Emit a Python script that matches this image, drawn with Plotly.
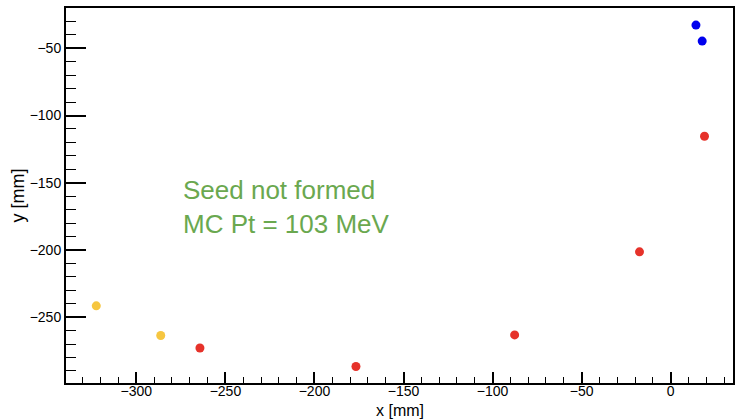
import plotly.graph_objects as go

# Hit positions [mm]
blue_x = [14.2, 17.7]
blue_y = [-32.7, -44.6]
red_x = [19.0, -17.5, -87.6, -176.7, -264.3]
red_y = [-115.4, -201.4, -263.2, -286.7, -273.0]
yellow_x = [-286.3, -322.5]
yellow_y = [-263.7, -241.6]

x_range = [-339.5, 35.0]
y_range = [-299.0, -20.0]
label_lines = ["Seed not formed", "MC Pt = 103 MeV"]
x_title = "x [mm]"
y_title = "y [mm]"

FONT = "Liberation Sans, Arial, Helvetica, sans-serif"

fig = go.Figure()
for xs, ys, col in [(yellow_x, yellow_y, "#f6c640"),
                    (red_x, red_y, "#e6322a"),
                    (blue_x, blue_y, "#0000ee")]:
    fig.add_trace(go.Scatter(x=xs, y=ys, mode="markers",
                             marker=dict(color=col, size=9, line=dict(width=0)),
                             showlegend=False, hoverinfo="x+y"))

fig.add_annotation(text="<br>".join(label_lines), xref="paper", yref="paper",
                   x=0.172, y=0.47, xanchor="left", yanchor="middle", align="left",
                   showarrow=False, font=dict(family=FONT, size=26, color="#6aa84f"))

# x-axis title, placed below the tick labels
fig.add_annotation(text=x_title, xref="paper", yref="paper", x=0.5, y=0,
                   xanchor="center", yanchor="bottom", yshift=-37, showarrow=False,
                   borderpad=0,
                   font=dict(family=FONT, size=16, color="black"))

fig.update_layout(
    width=736, height=420,
    margin=dict(l=66, r=1, t=8, b=37),
    paper_bgcolor="white", plot_bgcolor="white",
    font=dict(family=FONT, size=14, color="black"),
    xaxis=dict(range=x_range, showgrid=False, zeroline=False,
               showline=True, linecolor="black", linewidth=2, mirror=True,
               ticks="inside", ticklen=11, tickwidth=1.5, tickcolor="black",
               dtick=50, tick0=0, ticklabelstandoff=-6,
               minor=dict(ticks="inside", ticklen=6, tickwidth=1, dtick=10, tickcolor="black", showgrid=False),
               tickfont=dict(size=14)),
    yaxis=dict(range=y_range, showgrid=False, zeroline=False,
               showline=True, linecolor="black", linewidth=2, mirror=True,
               ticks="inside", ticklen=20, tickwidth=1.5, tickcolor="black",
               dtick=50, tick0=0,
               minor=dict(ticks="inside", ticklen=10, tickwidth=1, dtick=10, tickcolor="black", showgrid=False),
               title=dict(text=y_title, font=dict(size=18), standoff=0),
               tickfont=dict(size=14)),
)

fig.write_html("out.html")
